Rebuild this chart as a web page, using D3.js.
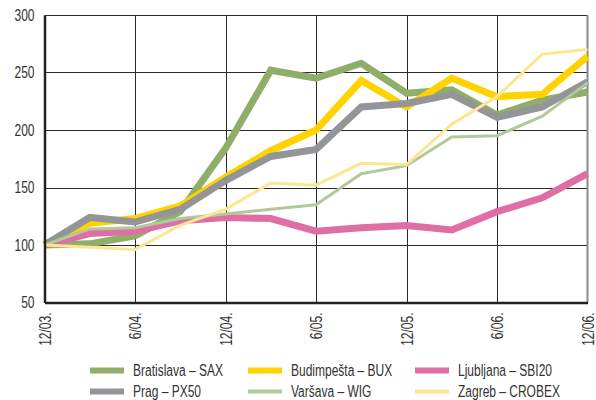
<!DOCTYPE html>
<html>
<head>
<meta charset="utf-8">
<script src="https://cdn.jsdelivr.net/npm/d3@7"></script>
<style>
  html, body { margin: 0; padding: 0; background: #fff; }
  svg { display: block; }
  text { font-family: "Liberation Sans", Arial, sans-serif; fill: #333; }
</style>
</head>
<body>
<svg id="chart" width="596" height="400"></svg>
<script>
// Quarterly points, 12/03 through 12/06 (index, 12/03 = 100)
const periods = ["12/03.", "3/04.", "6/04.", "9/04.", "12/04.", "3/05.", "6/05.", "9/05.", "12/05.", "3/06.", "6/06.", "9/06.", "12/06."];
const tickLabels = ["12/03.", "6/04.", "12/04.", "6/05.", "12/05.", "6/06.", "12/06."];
const yTicks = [50, 100, 150, 200, 250, 300];

const bratislava = [100, 101, 108, 129, 184, 252, 245, 258, 232, 235, 213, 226, 233];
const budimpesta = [100, 119, 123, 134, 159, 182, 200, 243, 220, 245, 229, 231, 264];
const ljubljana  = [100, 110, 112, 121, 124, 123, 112, 115, 117, 113, 129, 141, 162];
const prag       = [100, 124, 120, 131, 156, 177, 183, 220, 223, 231, 211, 220, 242];
const varsava    = [100, 114, 115, 123, 127, 131, 135, 162, 169, 194, 195, 212, 241];
const zagreb     = [100, 98, 96, 117, 131, 154, 152, 171, 170, 205, 229, 266, 270];

const seriesNames  = ["Bratislava – SAX", "Budimpešta – BUX", "Ljubljana – SBI20", "Prag – PX50", "Varšava – WIG", "Zagreb – CROBEX"];
const seriesValues = [bratislava, budimpesta, ljubljana, prag, varsava, zagreb];
const seriesColors = ["#8fae6a", "#ffd200", "#de6ea3", "#939598", "#b3c99a", "#fde592"];
const seriesWidths = [7, 7, 7, 7, 3, 3];

// condensed look: regular sans squeezed horizontally
const squeeze = 0.75;
const fontSize = "16px";

const svg = d3.select("#chart");
const plotLeft = 44.5, plotRight = 587.5, plotTop = 15, plotBottom = 302.5;

const x = d3.scalePoint().domain(periods).range([plotLeft, plotRight]);
const y = d3.scaleLinear().domain([50, 300]).range([plotBottom, plotTop]);

// grid
const grid = svg.append("g");
grid.selectAll("line.h").data(yTicks.slice(1)).join("line")
  .attr("x1", plotLeft).attr("x2", plotRight)
  .attr("y1", d => Math.round(y(d)) + 0.5).attr("y2", d => Math.round(y(d)) + 0.5)
  .attr("stroke", "#2a2a2a").attr("stroke-width", 1);
grid.selectAll("line.v").data(tickLabels.slice(1, -1)).join("line")
  .attr("x1", d => Math.round(x(d)) + 0.5).attr("x2", d => Math.round(x(d)) + 0.5)
  .attr("y1", plotTop).attr("y2", plotBottom)
  .attr("stroke", "#2a2a2a").attr("stroke-width", 1);
// right edge
svg.append("line").attr("x1", plotRight).attr("x2", plotRight).attr("y1", plotTop).attr("y2", plotBottom)
  .attr("stroke", "#8a8a8a").attr("stroke-width", 2);

// lines
const line = d3.line().x((d, i) => x(periods[i])).y(d => y(d));
svg.append("g").selectAll("path").data(seriesValues).join("path")
  .attr("d", d => line(d))
  .attr("fill", "none")
  .attr("stroke", (d, i) => seriesColors[i])
  .attr("stroke-width", (d, i) => seriesWidths[i])
  .attr("stroke-linejoin", "miter");

// axes
const yAxis = svg.append("g").attr("transform", `translate(${plotLeft},0)`)
  .call(d3.axisLeft(y).tickValues(yTicks).tickSize(0));
yAxis.select(".domain").attr("stroke", "#222").attr("stroke-width", 2.5);
yAxis.selectAll("text")
  .style("font-size", fontSize).attr("fill", "#333")
  .attr("text-anchor", "end")
  .attr("x", -10 / squeeze)
  .attr("transform", `scale(${squeeze},1)`);

const xAxis = svg.append("g").attr("transform", `translate(0,${plotBottom})`)
  .call(d3.axisBottom(x).tickValues(tickLabels).tickSize(0));
xAxis.select(".domain").attr("stroke", "#222").attr("stroke-width", 2.5);
xAxis.selectAll("text")
  .style("font-size", fontSize).attr("fill", "#333")
  .attr("text-anchor", "end")
  .attr("transform", `rotate(-90) scale(${squeeze},1)`)
  .attr("x", -10 / squeeze).attr("y", 0).attr("dy", "0.35em");

// legend
const legX = [90, 248, 415];
const legY = [370.5, 391.5];
const leg = svg.append("g").selectAll("g").data(seriesNames).join("g")
  .attr("transform", (d, i) => `translate(${legX[i % 3]},${legY[Math.floor(i / 3)]})`);
leg.append("line").attr("x1", 0).attr("x2", 34).attr("y1", 0).attr("y2", 0)
  .attr("stroke", (d, i) => seriesColors[i])
  .attr("stroke-width", (d, i) => seriesWidths[i] === 7 ? 6 : 4);
leg.append("text")
  .attr("transform", `translate(43,0) scale(${squeeze},1)`)
  .attr("dy", "0.35em")
  .style("font-size", fontSize).text(d => d);
</script>
</body>
</html>
